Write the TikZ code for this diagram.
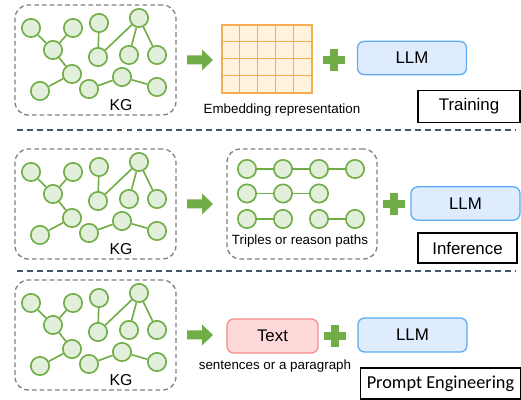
\documentclass[tikz,border=0pt]{standalone}
\usepackage{fontspec}
\setmainfont{Liberation Sans}
\newfontfamily\calibrifont{Carlito}
\usetikzlibrary{positioning}

\definecolor{kggreen}{HTML}{70AD47}
\definecolor{kgfill}{HTML}{E2EFDA}
\definecolor{boxgray}{HTML}{7F7F7F}
\definecolor{sepblue}{HTML}{44546A}
\definecolor{llmfill}{HTML}{DEECFD}
\definecolor{llmline}{HTML}{5AACF5}
\definecolor{txtfill}{HTML}{FFD9D9}
\definecolor{txtline}{HTML}{F58C8C}
\definecolor{embline}{HTML}{F7AE4F}
\definecolor{embfill}{HTML}{FFF3DE}

\tikzset{
  ent/.style={circle,draw=kggreen,fill=kgfill,line width=1.4pt,minimum size=0.55cm,inner sep=0},
  rel/.style={draw=kggreen,line width=1.4pt},
  kgbox/.style={draw=boxgray,line width=1.1pt,dash pattern=on 4pt off 2.6pt,rounded corners=0.4cm,minimum width=4.83cm,minimum height=3.3cm},
  llmbox/.style={draw=llmline,fill=llmfill,line width=1.1pt,rounded corners=0.2cm,minimum width=3.27cm,minimum height=1cm,font=\fontsize{14.4}{16}\selectfont},
  txtbox/.style={draw=txtline,fill=txtfill,line width=1.1pt,rounded corners=0.2cm,minimum width=2.73cm,minimum height=1.02cm,font=\fontsize{14.4}{16}\selectfont},
  stagebox/.style={draw=black,line width=1.1pt,minimum height=0.96cm,font=\fontsize{14.4}{16}\selectfont},
  smalllabel/.style={font=\fontsize{11.4}{13}\selectfont,inner sep=0},
  kglabel/.style={font=\fontsize{13.5}{15}\selectfont,inner sep=0},
  sepline/.style={draw=sepblue,line width=1.6pt,dash pattern=on 5pt off 3.5pt},
  fatarrow/.pic={\fill[kggreen] (0,-4.5) -- (15,-4.5) -- (15,-10.5) -- (26,0) -- (15,10.5) -- (15,4.5) -- (0,4.5) -- cycle;},
  plussign/.pic={\fill[kggreen] (-11,-3.7) rectangle (11,3.7); \fill[kggreen] (-3.7,-11) rectangle (3.7,11);}
}

\newcommand{\kggraph}[1]{%
\node[kgbox] (#1box) at (95.5,60) {};
\foreach \n/\x/\y in {1/31/28,2/73/28,3/53/50,4/99/23,5/139/18,6/98/57,7/129/55,8/157/55,9/72/74,10/40/91,11/89/89,12/122/77,13/157/87}
  \node[ent] (#1\n) at (\x,\y) {};
\foreach \a/\b in {1/3,2/3,3/9,9/10,4/6,6/5,5/7,5/8,11/12,12/13}
  \draw[rel] (#1\a) -- (#1\b);
\node[kglabel] (#1lbl) at (121,105) {KG};
}

\begin{document}
\begin{tikzpicture}[x=0.03cm,y=-0.03cm]
\useasboundingbox (0,0) rectangle (521,400);

\begin{scope}
\kggraph{kga}
\pic at (187,60) {fatarrow};
\node[draw=embline,fill=embfill,line width=1.2pt,minimum width=2.7cm,minimum height=2.04cm,inner sep=0] (emb) at (267,59) {};
\foreach \i in {1,...,4}
  \draw[embline,line width=1.2pt] ([xshift=\i*0.54cm]emb.north west) -- ([xshift=\i*0.54cm]emb.south west);
\foreach \j in {1,...,3}
  \draw[embline,line width=1.2pt] ([yshift=-\j*0.51cm]emb.north west) -- ([yshift=-\j*0.51cm]emb.north east);
\node[smalllabel] (embtxt) at (282,110) {Embedding representation};
\pic at (334,60) {plussign};
\node[llmbox] (llma) at (412,58) {LLM};
\node[stagebox,minimum width=3.06cm] (stagea) at (469,106.5) {Training};
\end{scope}

\draw[sepline] (17,130) -- (515,130);

\begin{scope}[shift={(0,144)}]
\kggraph{kgb}
\pic at (187,60) {fatarrow};
\node[kgbox,minimum width=4.5cm] (tribox) at (302,60) {};
\foreach \c/\x in {1/247,2/283,3/319,4/355}
  \node[ent] (ta\c) at (\x,25) {};
\foreach \c/\x in {1/247,2/283,3/319}
  \node[ent] (tb\c) at (\x,49.5) {};
\foreach \c/\x in {1/247,2/283,3/319,4/355}
  \node[ent] (tc\c) at (\x,75) {};
\draw[rel] (ta1) -- (ta2);
\draw[rel] (ta2) -- (ta3);
\draw[rel] (ta3) -- (ta4);
\draw[rel] (tb1) -- (tb2);
\draw[rel] (tb2) -- (tb3);
\draw[rel] (tc1) -- (tc2);
\draw[rel] (tc3) -- (tc4);
\node[smalllabel] (tritxt) at (300,97) {Triples or reason paths};
\pic at (394,60) {plussign};
\node[llmbox] (llmb) at (465.5,59.5) {LLM};
\node[stagebox,minimum width=2.97cm,minimum height=0.9cm] (stageb) at (467.5,104) {Inference};
\end{scope}

\draw[sepline] (17,271) -- (515,271);

\begin{scope}[shift={(0,275)}]
\kggraph{kgc}
\pic at (187,60) {fatarrow};
\node[txtbox] (txt) at (272.5,61) {Text};
\node[smalllabel] (sentxt) at (275,91) {sentences or a paragraph};
\pic at (335,61) {plussign};
\node[llmbox,minimum height=1.02cm] (llmc) at (412.5,60) {LLM};
\node[stagebox,minimum width=4.8cm,minimum height=0.93cm,font=\calibrifont\fontsize{15.6}{18}\selectfont] (stagec) at (440.5,108.5) {Prompt Engineering};
\end{scope}

\end{tikzpicture}
\end{document}
